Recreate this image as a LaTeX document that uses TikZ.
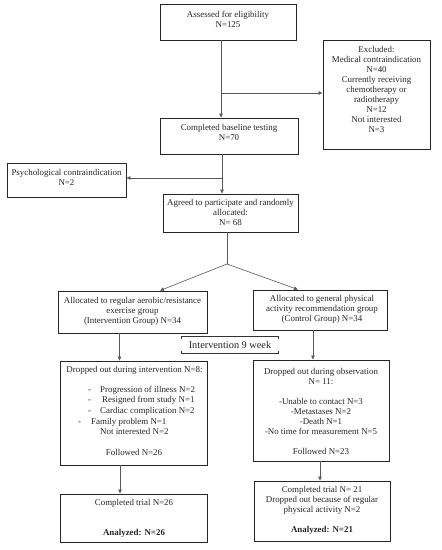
\documentclass[tikz,border=0pt]{standalone}
\usepackage{fontspec}
\setmainfont{Liberation Serif}
\usetikzlibrary{arrows.meta}
\begin{document}
\begin{tikzpicture}[x=1pt,y=-1pt,
  box/.style={draw=black!85, line width=0.9pt, inner sep=0pt},
  txt/.style={align=center, inner sep=0pt, font=\fontsize{8.9}{10}\selectfont, text=black!85},
  ltxt/.style={anchor=base west, inner sep=0pt, font=\fontsize{8.9}{10}\selectfont, text=black!85},
  conn/.style={draw=black!65, line width=0.6pt},
  arr/.style={conn, -{Triangle[length=4pt,width=3.5pt]}}]
\useasboundingbox[fill=white] (0,0) rectangle (442,550);

% boxes
\node[box, minimum width=136pt, minimum height=36pt] (b1) at (228,22) {};
\node[txt] (t1) at (228,19) {Assessed for eligibility\\N=125};

\node[box, minimum width=107pt, minimum height=109pt] (exc) at (376.5,94.5) {};
\node[txt] (texc) at (376.5,89.5) {Excluded:\\Medical contraindication\\N=40\\Currently receiving\\chemotherapy or\\radiotherapy\\N=12\\Not interested\\N=3};

\node[box, minimum width=138pt, minimum height=36pt] (b2) at (229,136) {};
\node[txt] (t2) at (229,132) {Completed baseline testing\\N=70};

\node[box, minimum width=119pt, minimum height=34pt] (psy) at (66.5,180) {};
\node[txt] (tpsy) at (66.5,177.5) {Psychological contraindication\\N=2};

\node[box, minimum width=135pt, minimum height=38pt] (b3) at (230.5,213) {};
\node[txt] (t3) at (230.5,212) {Agreed to participate and randomly\\allocated:\\N= 68};

\node[box, minimum width=149pt, minimum height=42pt] (b4l) at (132.5,312) {};
\node[txt] (t4l) at (132.5,311) {Allocated to regular aerobic/resistance\\exercise group\\(Intervention Group) N=34};

\node[box, minimum width=134pt, minimum height=40pt] (b4r) at (320,310) {};
\node[txt] (t4r) at (322,309.5) {Allocated to general physical\\activity recommendation group\\(Control Group) N=34};

% intervention bracket
\node[inner sep=0pt, minimum width=96pt, minimum height=17pt, font=\fontsize{10.3}{12}\selectfont, text=black!85] (int) at (230,345) {\raisebox{0pt}{Intervention 9 week}};
\draw[black!80, line width=0.8pt] ([yshift=-3pt]int.north west) -- (int.north west) -- (int.north east) -- ([yshift=-3pt]int.north east);
\draw[black!80, line width=0.8pt] ([yshift=3pt]int.south west) -- (int.south west) -- (int.south east) -- ([yshift=3pt]int.south east);

\node[box, minimum width=147pt, minimum height=104pt] (b5l) at (133.5,413) {};
\node[txt] (t5a) at (134.5,370) {Dropped out during intervention N=8:};
\node[ltxt] (d1) at (88,392.5) {-};
\node[ltxt] (l1) at (100,392.5) {Progression of illness N=2};
\node[ltxt] (d2) at (88,402.5) {-};
\node[ltxt] (l2) at (102,402.5) {Resigned from study N=1};
\node[ltxt] (d3) at (88,413.5) {-};
\node[ltxt] (l3) at (100,413.5) {Cardiac complication N=2};
\node[ltxt] (d4) at (78,424.5) {-};
\node[ltxt] (l4) at (91,424.5) {Family problem N=1};
\node[ltxt] (l5) at (100,434.5) {Not interested N=2};
\node[txt] (t5f) at (134,452) {Followed N=26};

\node[box, minimum width=136pt, minimum height=101pt] (b5r) at (321,410.5) {};
\node[txt] (t5r) at (321,411) {Dropped out during observation\\N= 11:\\[10pt]-Unable to contact N=3\\-Metastases N=2\\-Death N=1\\-No time for measurement N=5\\[10pt]Followed N=23};

\node[box, minimum width=147pt, minimum height=48pt] (b6l) at (133.5,518) {};
\node[txt] (t6l) at (134,518) {Completed trial N=26\\[20pt]\textbf{Analyzed: N=26}};

\node[box, minimum width=136pt, minimum height=60pt] (b6r) at (322,511) {};
\node[txt] (t6r) at (322,510) {Completed trial N= 21\\Dropped out because of regular\\physical activity N=2\\[10pt]\textbf{Analyzed: N=21}};

% connectors
\coordinate (j1) at (221,93);
\draw[arr] (b1.south -| j1) -- (b2.north -| j1);
\draw[arr] (j1) -- (exc.west |- j1);
\coordinate (j2) at (222,178);
\draw[arr] (b2.south -| j2) -- (b3.north -| j2);
\draw[arr] (j2) -- (psy.east |- j2);
\coordinate (br) at (227,264);
\draw[conn] (b3.south -| br) -- (br);
\draw[arr] (br) -- ([xshift=27.5pt]b4l.north);
\draw[arr] (br) -- ([xshift=-22pt]b4r.north);
\draw[arr] ([xshift=-13pt]b4l.south) -- ([xshift=-13pt]b4l.south |- b5l.north);
\draw[arr] ([xshift=-7pt]b4r.south) -- ([xshift=-7pt]b4r.south |- b5r.north);
\draw[arr] ([xshift=-13.5pt]b5l.south) -- ([xshift=-13.5pt]b5l.south |- b6l.north);
\draw[arr] ([xshift=-1pt]b5r.south) -- ([xshift=-1pt]b5r.south |- b6r.north);
\end{tikzpicture}
\end{document}
